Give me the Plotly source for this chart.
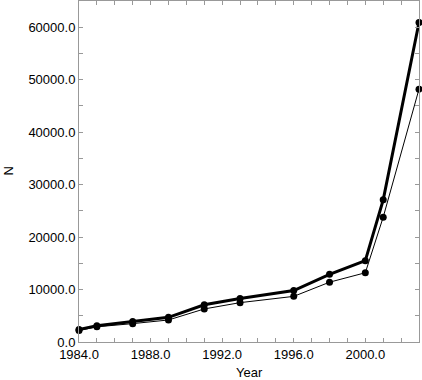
import plotly.graph_objs as go

years = [1984, 1985, 1987, 1989, 1991, 1993, 1996, 1998, 2000, 2001, 2003]
n_total = [2400, 3100, 3900, 4700, 7100, 8300, 9800, 12900, 15500, 27100, 60900]
n_sub = [2200, 2900, 3500, 4200, 6300, 7500, 8700, 11400, 13200, 23800, 48200]

FONT = 'Liberation Sans Narrow, Liberation Sans'
AXIS_COLOR = '#999999'


def create_trace(y, width):
    return go.Scatter(
        x=years,
        y=y,
        mode='lines+markers',
        line=dict(color='black', width=width),
        marker=dict(color='black', size=7),
        cliponaxis=False,
        showlegend=False
    )


def axis_style(rng, dtick, minor_dtick):
    return dict(
        range=rng,
        dtick=dtick,
        tick0=rng[0],
        tickformat='.1f',
        ticks='inside',
        ticklen=4,
        tickcolor=AXIS_COLOR,
        tickfont=dict(family=FONT, size=13, color='black'),
        minor=dict(dtick=minor_dtick, ticks='inside', ticklen=4,
                   tickcolor=AXIS_COLOR),
        showline=True,
        linecolor=AXIS_COLOR,
        linewidth=1,
        mirror='allticks',
        showgrid=False,
        zeroline=False,
        automargin=False,
        fixedrange=True
    )


fig = go.Figure(
    data=[create_trace(n_sub, 1), create_trace(n_total, 3)],
    layout=go.Layout(
        width=422,
        height=380,
        plot_bgcolor='white',
        paper_bgcolor='white',
        xaxis=axis_style([1984, 2003], 4, 1),
        yaxis=axis_style([0, 65000], 10000, 5000),
        margin=go.layout.Margin(l=79, r=3, t=1, b=38, pad=0),
        annotations=[
            dict(text='Year', x=0.5, y=0, xref='paper', yref='paper',
                 xanchor='center', yanchor='middle', yshift=-30,
                 showarrow=False, font=dict(family=FONT, size=13, color='black')),
            dict(text='N', x=0, y=0.5, xref='paper', yref='paper',
                 xanchor='center', yanchor='middle', xshift=-71, textangle=-90,
                 showarrow=False, font=dict(family=FONT, size=13, color='black')),
        ]
    )
)

fig.write_html("out.html",
               config={'displayModeBar': False},
               post_script="document.body.style.margin='0';")
